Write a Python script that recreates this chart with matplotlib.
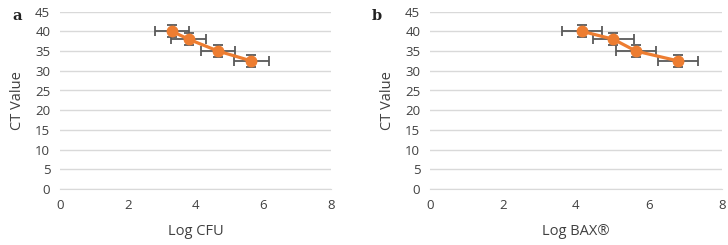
import matplotlib
matplotlib.use("Agg")
import matplotlib.pyplot as plt

# data
ct_values = [40, 38, 35, 32.5]
ct_err = [1.5, 1.5, 1.5, 1.5]

log_cfu = [3.31, 3.80, 4.67, 5.65]
cfu_err = [0.5, 0.52, 0.51, 0.52]

log_bax = [4.18, 5.03, 5.65, 6.81]
bax_err = [0.55, 0.56, 0.55, 0.55]

panels = [
    ("a", log_cfu, cfu_err, "Log CFU"),
    ("b", log_bax, bax_err, "Log BAX®"),
]

plt.rcParams['font.family'] = ['Open Sans', 'DejaVu Sans']

fig = plt.figure(figsize=(7.28, 2.45), dpi=100)
# axes positions in figure fractions
boxes = [
    [60 / 728, 1 - 189 / 245, 271 / 728, 177.3 / 245],
    [430 / 728, 1 - 189 / 245, 291.7 / 728, 177.3 / 245],
]
letter_x = [12 / 728, 372 / 728]

orange = "#ED7D31"
grey = "#595959"
grid = "#D9D9D9"
text_col = "#404040"

for (letter, xs, xerr, xlabel), box, lx in zip(panels, boxes, letter_x):
    ax = fig.add_axes(box)
    ax.errorbar(xs, ct_values, xerr=xerr, yerr=ct_err, fmt="none",
                ecolor=grey, elinewidth=1.3, capsize=3.5, capthick=1.3, zorder=2)
    ax.plot(xs, ct_values, color=orange, lw=2.3, marker="o", ms=7.5,
            zorder=3)
    ax.set_xlim(0, 8)
    ax.set_ylim(0, 45)
    ax.set_xticks(range(0, 9, 2))
    ax.set_yticks(range(0, 46, 5))
    ax.yaxis.grid(True, color=grid, lw=1)
    ax.set_axisbelow(True)
    for s in ["top", "right", "left"]:
        ax.spines[s].set_visible(False)
    ax.spines["bottom"].set_color(grid)
    ax.tick_params(length=0, labelsize=9.5, colors=text_col, pad=7)
    ax.set_xlabel(xlabel, fontsize=10.5, color=text_col, labelpad=9)
    ax.set_ylabel("CT Value", fontsize=10.5, color=text_col, labelpad=7)
    fig.text(lx, 1 - 16 / 245, letter, fontsize=10.5, fontweight="bold",
             family="DejaVu Serif", va="center", color="#222222")

fig.savefig("out.png", dpi=100)
